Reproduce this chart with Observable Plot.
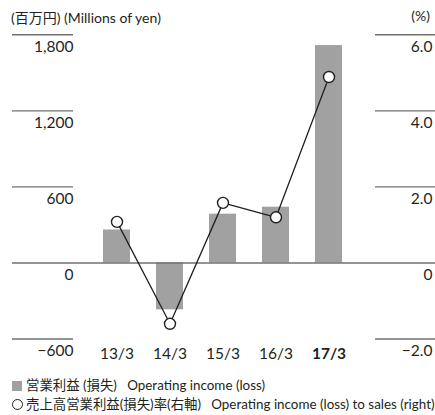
<!DOCTYPE html>
<html>
<head>
<meta charset="utf-8">
<script src="https://cdn.jsdelivr.net/npm/d3@7"></script>
<script src="https://cdn.jsdelivr.net/npm/@observablehq/plot@0.6"></script>
<style>
  body { margin: 0; background: #fff; font-family: Lato, "Noto Sans CJK JP", sans-serif; color: #231f20; }
  #wrap { width: 435px; position: relative; }
  .hdr { height: 26px; position: relative; font-size: 14px; }
  .hdr .l { position: absolute; left: 11px; top: 7px; }
  .hdr .r { position: absolute; right: 5px; top: 7px; }
  .legend { font-size: 13.4px; line-height: 19px; padding-left: 12px; margin-top: 8px; white-space: nowrap; }
  .legend .sq { display: inline-block; width: 10px; height: 10px; background: #a0a0a0; vertical-align: -1px; margin-right: 4px; }
  .legend .ci { display: inline-block; width: 11px; height: 11px; border: 1.4px solid #231f20; border-radius: 50%; vertical-align: -1px; margin-right: 3px; box-sizing: border-box; }
  svg text { font-family: Lato, "Noto Sans CJK JP", sans-serif; }
</style>
</head>
<body>
<div id="wrap">
  <div class="hdr"><span class="l">(百万円) (Millions of yen)</span><span class="r">(%)</span></div>
  <div id="chart"></div>
  <div class="legend">
    <div><span class="sq"></span>営業利益 (損失)&nbsp;&nbsp;&nbsp;Operating income (loss)</div>
    <div><span class="ci"></span>売上高営業利益(損失)率(右軸)&nbsp;&nbsp;&nbsp;Operating income (loss) to sales (right)</div>
  </div>
</div>
<script>
const categories = ["13/3", "14/3", "15/3", "16/3", "17/3"];
const operatingIncome = [260, -370, 385, 440, 1715];     // 百万円
const incomeToSales = [1.08, -1.60, 1.58, 1.20, 4.89];   // %
const leftTicks = [-600, 0, 600, 1200, 1800];
const rightTicks = [-2.0, 0, 2.0, 4.0, 6.0];
const highlight = "17/3";

const ratio = 1800 / 6.0; // right-axis to left-axis conversion
const data = categories.map((c, i) => ({cat: c, v: operatingIncome[i], p: incomeToSales[i] * ratio}));
const gridColor = "#707070";
const fmtR = d => d === 0 ? "0" : (d < 0 ? "\u2212" : "") + Math.abs(d).toFixed(1);

const chart = Plot.plot({
  width: 435,
  height: 342,
  marginLeft: 12,
  marginRight: 0,
  marginTop: 8,
  marginBottom: 29,
  style: {fontSize: "15px", color: "#231f20", background: "#fff"},
  x: {domain: categories, range: [77, 368], padding: 0.49, axis: null},
  y: {domain: [-600, 1800], range: [312.5, 8.3], axis: null},
  marks: [
    Plot.barY(data, {x: "cat", y: "v", fill: "#a0a1a0"}),
    Plot.ruleY(leftTicks.filter(d => d !== 0), {stroke: gridColor, strokeWidth: 1.4, insetRight: 362}),
    Plot.ruleY(rightTicks.filter(d => d !== 0).map(d => d * ratio), {stroke: gridColor, strokeWidth: 1.4, insetLeft: 363}),
    Plot.ruleY([0], {stroke: gridColor, strokeWidth: 1.4}),
    Plot.text(leftTicks, {y: d => d, text: d3.format(","), frameAnchor: "left", textAnchor: "end", dx: 61, dy: 12, fontSize: 15.5, fill: "#231f20"}),
    Plot.text(rightTicks, {y: d => d * ratio, text: fmtR, frameAnchor: "right", textAnchor: "end", dx: -3, dy: 12, fontSize: 15.5, fill: "#231f20"}),
    Plot.text(categories.filter(c => c !== highlight), {x: d => d, y: -600, dy: 15, fontSize: 15.5, fill: "#231f20"}),
    Plot.text([highlight], {x: d => d, y: -600, dy: 15, fontSize: 15.5, fontWeight: "bold", fill: "#231f20"}),
    Plot.line(data, {x: "cat", y: "p", stroke: "#231f20", strokeWidth: 1.3}),
    Plot.dot(data, {x: "cat", y: "p", r: 5.5, fill: "#fff", stroke: "#231f20", strokeWidth: 1.4})
  ]
});
document.getElementById("chart").appendChild(chart);
</script>
</body>
</html>
